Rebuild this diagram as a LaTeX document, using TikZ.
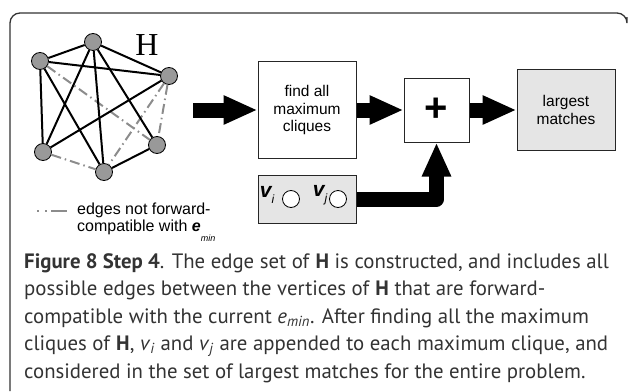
\documentclass[tikz,border=0pt]{standalone}
\usepackage{fontspec}
\setmainfont{Liberation Sans}
\newfontfamily\capfont{PT Sans}
\newfontfamily\serfont{Liberation Serif}
\usetikzlibrary{arrows.meta}

\begin{document}
\begin{tikzpicture}[
    x=1pt,
    y=-1pt,
    frame/.style={
        draw=black!80,
        line width=1.3pt,
        rounded corners=10pt
    },
    vertex/.style={
        circle,
        draw=black,
        fill=gray!80,
        line width=0.8pt,
        minimum size=17pt,
        inner sep=0pt
    },
    clique/.style={
        draw=black,
        line width=2pt
    },
    notfwd/.style={
        draw=gray!90,
        line width=2pt,
        dash pattern=on 10pt off 4pt on 1.5pt off 4pt
    },
    stepbox/.style={
        draw=black!85,
        fill=white,
        rectangle,
        line width=1pt,
        inner sep=0pt,
        align=center,
        font=\fontsize{15.5}{17.5}\selectfont
    },
    slot/.style={
        circle,
        draw=black,
        fill=white,
        line width=0.8pt,
        minimum size=17pt,
        inner sep=0pt
    },
    bigarrow/.style={
        line width=15pt,
        line join=round,
        -{Triangle[length=34pt, width=27pt]}
    }
]

\useasboundingbox (0,0) rectangle (629,391);

% frame
\draw[frame] (627,17) -- (627,13) -- (10,13) -- (10,391);

% graph H
\node[vertex] (top) at (93,42) {};
\node[vertex] (ul) at (40,61) {};
\node[vertex] (rt) at (169,76) {};
\node[vertex] (ll) at (43,152) {};
\node[vertex] (bt) at (104,172) {};
\node[vertex] (lr) at (157,145) {};

\node[font=\serfont\fontsize{32}{32}\selectfont] (hlbl) at (147,45) {H};

\draw[notfwd] (ul) -- (lr);
\draw[notfwd] (ll) -- (bt);
\draw[notfwd] (rt) -- (lr);
\draw[notfwd] (rt) -- (bt);

\draw[clique] (top) -- (ul);
\draw[clique] (top) -- (rt);
\draw[clique] (top) -- (ll);
\draw[clique] (top) -- (bt);
\draw[clique] (top) -- (lr);
\draw[clique] (ul) -- (rt);
\draw[clique] (ul) -- (ll);
\draw[clique] (ul) -- (bt);
\draw[clique] (rt) -- (ll);
\draw[clique] (bt) -- (lr);

% legend
\coordinate (lga) at (37,211);
\coordinate (lgb) at (67,211);
\draw[
    draw=gray!90,
    line width=2.5pt,
    dash pattern=on 2pt off 6pt on 2pt off 4pt on 16pt off 10pt
]
    (lga) -- (lgb);

\node[
    anchor=north west,
    align=left,
    inner sep=0pt,
    font=\fontsize{16}{17}\selectfont
] (lgtxt) at (77,203)
    {edges not forward-\\
     compatible with \textbf{\textit{e}}\raisebox{-10pt}{\fontsize{9}{9}\selectfont\itshape min}};

% steps
\node[stepbox, minimum width=98pt, minimum height=97pt] (find) at (307,110)
    {find all\\maximum\\cliques};

\node[
    stepbox,
    minimum width=65pt,
    minimum height=64pt,
    font=\fontsize{40}{40}\selectfont\bfseries
] (plus) at (436.5,110)
    {+};

\node[stepbox, fill=gray!20, minimum width=98pt, minimum height=81pt] (largest) at (566,110)
    {largest\\matches};

\node[stepbox, fill=gray!20, minimum width=98pt, minimum height=48pt] (vivj) at (307,199) {};

\node[font=\fontsize{21}{21}\selectfont\bfseries\itshape] (vlbli) at (267,195)
    {v\raisebox{-6pt}{\fontsize{12}{12}\selectfont\mdseries i}};
\node[slot] (sloti) at (291,199) {};
\node[font=\fontsize{21}{21}\selectfont\bfseries\itshape] (vlblj) at (320,195)
    {v\raisebox{-6pt}{\fontsize{12}{12}\selectfont\mdseries j}};
\node[slot] (slotj) at (338,199) {};

% thick arrows
\coordinate (gout) at (193,110);

\draw[bigarrow] (gout) -- (find.west);
\draw[bigarrow] (find.east) -- (plus.west);
\draw[bigarrow] (plus.east) -- (largest.west);
\draw[bigarrow] (vivj.east) -| (plus.south);

% caption
\node[
    anchor=north west,
    align=left,
    inner sep=0pt,
    text=black!80,
    font=\capfont\fontsize{20.8}{27.5}\selectfont
] (caption) at (24,253)
    {\textbf{Figure 8 Step 4}. The edge set of \textbf{H} is constructed, and includes all\\
     possible edges between the vertices of \textbf{H} that are forward-\\
     compatible with the current \textit{e}\textsubscript{\textit{min}}. After finding all the maximum\\
     cliques of \textbf{H}, \textit{v}\textsubscript{\textit{i}} and \textit{v}\textsubscript{\textit{j}} are appended to each maximum clique, and\\
     considered in the set of largest matches for the entire problem.};

\end{tikzpicture}
\end{document}
